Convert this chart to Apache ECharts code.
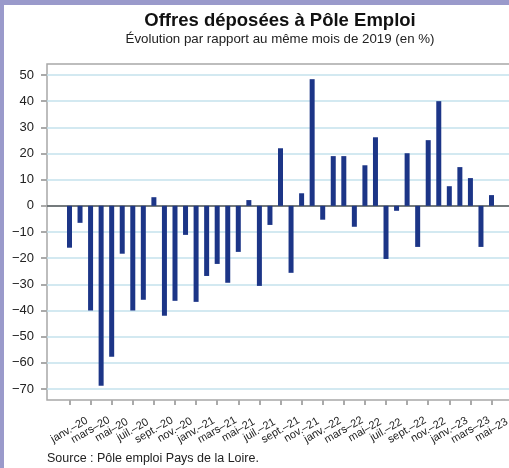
<!DOCTYPE html>
<html>
<head>
<meta charset="utf-8">
<script src="https://cdn.jsdelivr.net/npm/echarts@6/dist/echarts.min.js"></script>
<style>
html,body{margin:0;padding:0;background:#9a9acb;width:509px;height:468px;overflow:hidden;position:relative;}
#panel{position:absolute;left:4px;top:5px;width:540px;height:480px;background:#fff;}
#chart{position:absolute;left:0;top:0;width:540px;height:468px;}
</style>
</head>
<body>
<div id="panel"></div>
<div id="chart"></div>
<script>
const months = ["janv.–20","févr.–20","mars–20","avr.–20","mai–20","juin–20","juil.–20","août–20","sept.–20","oct.–20","nov.–20","déc.–20",
"janv.–21","févr.–21","mars–21","avr.–21","mai–21","juin–21","juil.–21","août–21","sept.–21","oct.–21","nov.–21","déc.–21",
"janv.–22","févr.–22","mars–22","avr.–22","mai–22","juin–22","juil.–22","août–22","sept.–22","oct.–22","nov.–22","déc.–22",
"janv.–23","févr.–23","mars–23","avr.–23","mai–23"];
const evolution = [-16,-6.5,-40,-68.8,-57.7,-18.3,-40,-35.9,3.3,-42,-36.3,-11.1,
-36.7,-26.8,-22.2,-29.4,-17.6,2.2,-30.6,-7.3,22,-25.6,4.8,48.4,
-5.3,19,19,-8,15.5,26.2,-20.3,-1.9,20.1,-15.7,25.1,40,
7.5,14.8,10.6,-15.7,4.1];
const yTicks = [-70,-60,-50,-40,-30,-20,-10,0,10,20,30,40,50];
const titleText = "Offres déposées à Pôle Emploi";
const subtitleText = "Évolution par rapport au même mois de 2019 (en %)";
const sourceText = "Source : Pôle emploi Pays de la Loire.";

const yMin = -74.2, yMax = 54.2;
const font = "'Liberation Sans', Arial, sans-serif";
const W = 540;

const labelStyle = {rotate: 30, align: 'center', verticalAlign: 'middle', margin: 30,
  hideOverlap: false, fontFamily: font, fontSize: 11, color: '#222'};

const chart = echarts.init(document.getElementById('chart'), null, {renderer:'canvas'});
chart.setOption({
  backgroundColor: 'transparent',
  animation: false,
  title: [
    {text: titleText, left: 280, top: 11.5, textAlign: 'center', padding: 0,
     textStyle: {fontFamily: font, fontSize: 18.5, fontWeight: 'bold', color: '#111'}},
    {text: subtitleText, left: 280, top: 33, textAlign: 'center', padding: 0,
     textStyle: {fontFamily: font, fontSize: 13.3, fontWeight: 'normal', color: '#222'}},
    {text: sourceText, left: 47, top: 452, padding: 0,
     textStyle: {fontFamily: font, fontSize: 12.5, fontWeight: 'normal', color: '#222'}}
  ],
  grid: [
    {left: 47, right: W - 515, top: 64, bottom: 68, show: true, borderColor: '#a8a8a8', borderWidth: 1.5, backgroundColor: 'transparent'},
    {left: 64.2, right: W - 496.8, top: 64, bottom: 68}
  ],
  xAxis: [
    {type: 'value', gridIndex: 0, min: 0, max: 1, axisLabel: {show: false}, axisTick: {show: false}, splitLine: {show: false},
     axisLine: {show: true, onZero: true, lineStyle: {color: '#555', width: 1.5}}},
    {type: 'category', gridIndex: 1, data: months, boundaryGap: true, position: 'bottom',
     axisLine: {show: false, onZero: false},
     axisTick: {show: true, interval: 1, alignWithLabel: true, length: 5, lineStyle: {color: '#aaa', width: 2}},
     axisLabel: Object.assign({interval: (i) => i % 4 === 0, showMinLabel: true, showMaxLabel: true}, labelStyle)},
    {type: 'category', gridIndex: 1, data: months, boundaryGap: true, position: 'bottom',
     axisLine: {show: false, onZero: false},
     axisTick: {show: false},
     axisLabel: Object.assign({interval: (i) => i % 4 === 2, showMinLabel: true, showMaxLabel: true}, labelStyle)}
  ],
  yAxis: [
    {type: 'value', gridIndex: 0, min: yMin, max: yMax,
     axisLine: {show: false},
     axisTick: {show: true, length: 6, customValues: yTicks, lineStyle: {color: '#aaa', width: 2}},
     axisLabel: {customValues: yTicks, margin: 13, fontFamily: font, fontSize: 13, color: '#222',
       formatter: v => (v < 0 ? '−' + Math.abs(v) : String(v))},
     splitLine: {show: true, lineStyle: {color: '#c5e2ec', width: 1.5}}},
    {type: 'value', gridIndex: 1, min: yMin, max: yMax, show: false, splitLine: {show: false}}
  ],
  series: [{
    type: 'bar', xAxisIndex: 1, yAxisIndex: 1, data: evolution, barWidth: 5,
    itemStyle: {color: '#1c3587'}
  }]
});
</script>
</body>
</html>
